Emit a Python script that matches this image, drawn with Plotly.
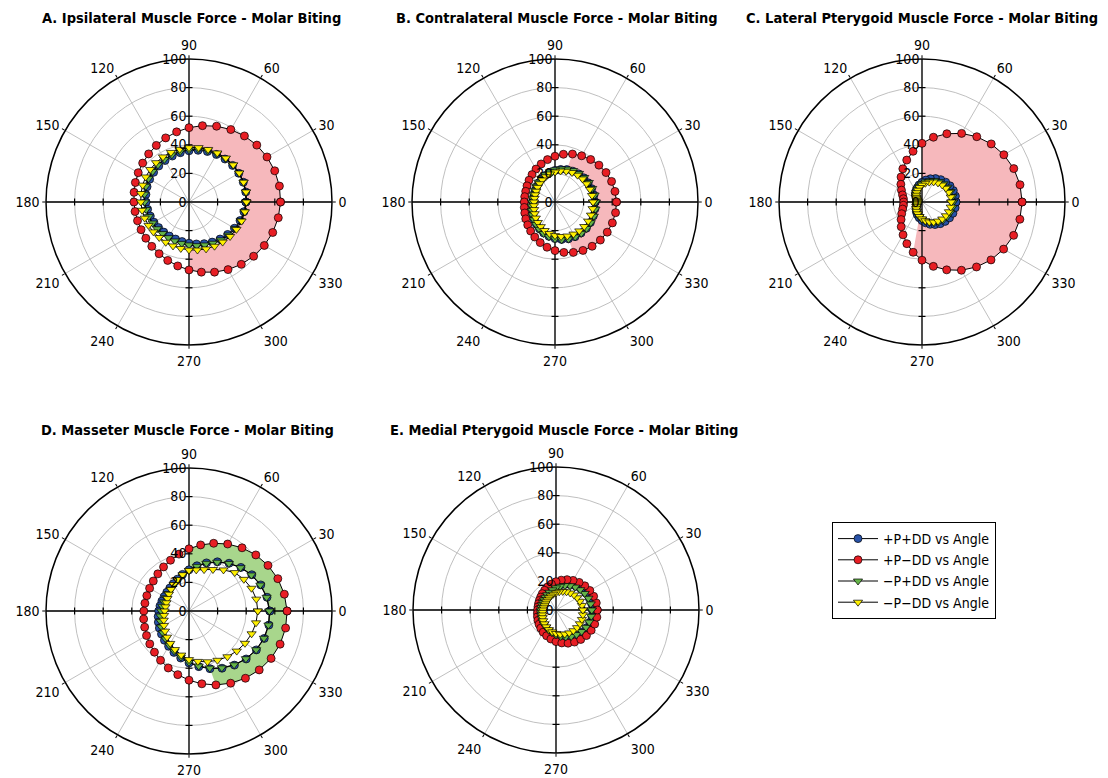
import plotly.graph_objects as go

# ---------------- data ----------------
ANGLES = [0, 10, 20, 30, 40, 50, 60, 70, 80, 90, 100, 110, 120, 130, 140, 150, 160, 170,
          180, 190, 200, 210, 220, 230, 240, 250, 260, 270, 280, 290, 300, 310, 320, 330, 340, 350]
ANGLE_TICKS = [0, 30, 60, 90, 120, 150, 180, 210, 240, 270, 300, 330]
RADIAL_TICKS = [0, 20, 40, 60, 80, 100]
SERIES_NAMES = ["+P+DD vs Angle", "+P\u2212DD vs Angle", "\u2212P+DD vs Angle", "\u2212P\u2212DD vs Angle"]

# A. Ipsilateral
A_PP_DD = [39.8, 40.3, 40.4, 40.2, 39.8, 39.2, 38.4, 37.6, 36.7, 35.8, 35.0, 34.2, 33.5, 32.9, 32.3, 31.8, 31.2, 30.6,
           30.0, 29.4, 28.8, 28.3, 27.8, 27.5, 27.5, 27.6, 28.1, 28.8, 29.8, 31.0, 32.4, 33.8, 35.3, 36.7, 38.0, 39.0]
A_PP_ND = [64.0, 64.2, 63.8, 63.0, 61.9, 60.3, 58.5, 56.4, 54.2, 52.0, 49.8, 47.7, 45.7, 43.9, 42.3, 41.0, 39.9, 39.0,
           38.5, 38.3, 38.3, 38.7, 39.4, 40.5, 41.8, 43.5, 45.4, 47.5, 49.8, 52.2, 54.6, 56.9, 59.0, 60.8, 62.3, 63.4]
A_NP_DD = [40.0, 40.4, 40.6, 40.5, 40.1, 39.6, 38.9, 38.2, 37.4, 36.5, 35.8, 35.1, 34.4, 33.8, 33.2, 32.7, 32.1, 31.6,
           31.0, 30.4, 29.9, 29.4, 29.1, 28.8, 28.8, 29.0, 29.4, 30.0, 31.0, 32.0, 33.3, 34.6, 36.0, 37.2, 38.4, 39.3]
A_NP_ND = [40.2, 40.5, 40.6, 40.6, 40.4, 40.1, 39.6, 39.1, 38.6, 38.0, 37.4, 36.9, 36.4, 35.9, 35.4, 35.0, 34.5, 34.1,
           33.7, 33.3, 33.0, 32.7, 32.5, 32.4, 32.5, 32.7, 33.0, 33.5, 34.1, 34.9, 35.7, 36.6, 37.5, 38.3, 39.1, 39.7]

# B. Contralateral
B_PP_DD = [28.1, 27.7, 27.3, 26.8, 26.3, 25.7, 24.9, 24.1, 23.1, 22.1, 20.9, 19.8, 18.7, 17.6, 16.7, 16.0, 15.6, 15.4,
           15.6, 16.0, 16.8, 17.8, 19.0, 20.3, 21.7, 23.1, 24.4, 25.6, 26.6, 27.4, 28.0, 28.3, 28.6, 28.6, 28.5, 28.3]
B_PP_ND = [43.0, 42.6, 42.1, 41.2, 40.1, 38.8, 37.3, 35.7, 33.9, 32.0, 30.1, 28.3, 26.6, 25.0, 23.7, 22.6, 21.8, 21.5,
           21.5, 21.8, 22.5, 23.6, 24.9, 26.5, 28.3, 30.2, 32.1, 34.0, 35.8, 37.5, 39.1, 40.4, 41.4, 42.2, 42.7, 43.0]
B_NP_DD = [28.5, 28.1, 27.7, 27.3, 26.7, 26.1, 25.4, 24.5, 23.5, 22.5, 21.4, 20.3, 19.2, 18.1, 17.2, 16.5, 16.1, 15.9,
           16.0, 16.5, 17.2, 18.2, 19.3, 20.6, 22.0, 23.4, 24.6, 25.8, 26.8, 27.6, 28.2, 28.6, 28.8, 28.9, 28.9, 28.7]
B_NP_ND = [26.6, 26.3, 26.0, 25.5, 25.1, 24.5, 23.8, 22.9, 22.0, 21.0, 19.9, 18.8, 17.8, 16.7, 15.9, 15.1, 14.7, 14.5,
           14.6, 14.9, 15.5, 16.4, 17.5, 18.7, 19.9, 21.2, 22.4, 23.5, 24.5, 25.3, 25.9, 26.4, 26.7, 26.8, 26.8, 26.7]

# C. Lateral pterygoid
C_PP_DD = [23.8, 23.7, 23.3, 22.6, 21.6, 20.4, 18.9, 17.3, 15.6, 13.8, 12.0, 10.2, 8.6, 7.1, 5.7, 4.6, 3.8, 3.3,
           3.1, 3.1, 3.5, 4.2, 5.2, 6.4, 7.9, 9.5, 11.2, 13.0, 14.8, 16.6, 18.2, 19.8, 21.1, 22.2, 23.0, 23.5]
C_PP_ND = [70.0, 69.6, 68.3, 66.1, 63.2, 59.6, 55.4, 50.8, 46.0, 41.0, 36.0, 31.2, 26.8, 22.8, 19.3, 16.6, 14.5, 13.2,
           12.8, 13.2, 14.4, 16.4, 19.1, 22.6, 26.5, 31.0, 35.7, 40.7, 45.7, 50.5, 55.1, 59.3, 63.0, 65.9, 68.2, 69.5]
C_NP_DD = [21.8, 21.7, 21.3, 20.7, 19.8, 18.7, 17.4, 15.9, 14.3, 12.7, 11.1, 9.5, 8.0, 6.6, 5.4, 4.4, 3.7, 3.2,
           3.0, 3.1, 3.5, 4.1, 5.0, 6.1, 7.4, 8.9, 10.5, 12.1, 13.7, 15.3, 16.8, 18.2, 19.4, 20.4, 21.1, 21.6]
C_NP_ND = [20.5, 20.4, 20.0, 19.3, 18.5, 17.4, 16.2, 14.8, 13.3, 11.8, 10.3, 8.8, 7.5, 6.2, 5.1, 4.3, 3.6, 3.2,
           3.1, 3.2, 3.6, 4.3, 5.1, 6.2, 7.5, 8.8, 10.3, 11.8, 13.3, 14.8, 16.2, 17.4, 18.5, 19.3, 20.0, 20.4]

# D. Masseter
D_PP_DD = [56.5, 55.4, 53.4, 50.7, 47.4, 43.6, 39.7, 35.8, 32.1, 28.8, 26.0, 23.7, 22.0, 20.9, 20.3, 20.1, 20.2, 20.6,
           21.2, 21.9, 22.8, 23.9, 25.1, 26.7, 28.5, 30.8, 33.4, 36.3, 39.5, 42.9, 46.2, 49.4, 52.2, 54.4, 56.0, 56.7]
D_PP_ND = [68.6, 67.7, 66.1, 63.8, 61.0, 57.7, 54.1, 50.4, 46.9, 43.5, 40.4, 37.8, 35.6, 33.9, 32.6, 31.8, 31.4, 31.3,
           31.6, 32.2, 33.0, 34.3, 35.8, 37.6, 39.8, 42.4, 45.2, 48.4, 51.7, 55.0, 58.3, 61.4, 64.1, 66.3, 67.8, 68.6]
D_NP_DD = [56.2, 55.1, 53.1, 50.4, 47.1, 43.4, 39.4, 35.5, 31.7, 28.3, 25.3, 22.9, 21.1, 19.8, 19.0, 18.6, 18.6, 19.0,
           19.5, 20.3, 21.2, 22.4, 23.8, 25.5, 27.6, 30.0, 32.7, 35.8, 39.1, 42.5, 45.9, 49.1, 51.9, 54.2, 55.7, 56.4]
D_NP_ND = [48.1, 47.8, 46.5, 44.3, 41.8, 37.5, 33.5, 30.8, 29.2, 28.4, 25.8, 23.4, 21.4, 19.6, 18.3, 17.4, 16.8, 16.7,
           17.0, 17.7, 18.8, 20.2, 21.9, 23.9, 26.2, 28.7, 31.3, 34.0, 35.8, 37.8, 39.8, 41.8, 43.6, 45.2, 46.6, 47.6]

# E. Medial pterygoid
E_PP_DD = [25.5, 25.3, 24.7, 23.9, 22.9, 21.7, 20.4, 19.1, 17.8, 16.5, 15.4, 14.3, 13.4, 12.7, 12.2, 11.8, 11.5, 11.5,
           11.5, 11.7, 12.1, 12.5, 13.1, 13.9, 14.7, 15.7, 16.8, 18.0, 19.3, 20.5, 21.7, 22.9, 23.9, 24.7, 25.2, 25.5]
E_PP_ND = [28.9, 28.6, 28.0, 27.3, 26.3, 25.2, 23.9, 22.6, 21.2, 19.8, 18.4, 17.1, 15.9, 14.9, 14.0, 13.4, 13.0, 12.8,
           12.9, 13.2, 13.8, 14.6, 15.5, 16.6, 17.9, 19.2, 20.6, 22.1, 23.4, 24.7, 25.9, 26.9, 27.8, 28.4, 28.8, 29.0]
E_NP_DD = [25.0, 24.7, 24.1, 23.2, 22.1, 20.9, 19.6, 18.2, 16.8, 15.5, 14.3, 13.2, 12.3, 11.6, 11.0, 10.6, 10.4, 10.4,
           10.5, 10.7, 11.1, 11.6, 12.3, 13.1, 14.0, 15.1, 16.2, 17.5, 18.8, 20.0, 21.3, 22.4, 23.4, 24.2, 24.7, 25.0]
E_NP_ND = [18.8, 18.4, 17.8, 17.1, 16.4, 15.5, 14.7, 13.8, 12.9, 12.0, 11.2, 10.4, 9.8, 9.2, 8.9, 8.6, 8.6, 8.7,
           9.0, 9.5, 10.1, 10.8, 11.7, 12.6, 13.6, 14.6, 15.5, 16.4, 17.2, 17.9, 18.5, 18.9, 19.2, 19.3, 19.3, 19.1]

TITLES = ["A. Ipsilateral Muscle Force - Molar Biting",
          "B. Contralateral Muscle Force - Molar Biting",
          "C. Lateral Pterygoid Muscle Force - Molar Biting",
          "D. Masseter Muscle Force - Molar Biting",
          "E. Medial Pterygoid Muscle Force - Molar Biting"]

# shaded band: (start angle, clockwise span, index of inner series)
FILL_START = [90, 70, 90, 90, 60]
FILL_SPAN = [180, 140, 190, 160, 120]
FILL_INNER = [3, 2, 3, 0, 2]

# ---------------- style / layout ----------------
# the page body has an 8px margin, so the figure is 8px smaller and all
# pixel positions (measured on the final screenshot) are shifted by 8px
OFF = 8
W, H = 1108 - OFF, 778 - OFF
CENTERS = [(189, 202), (555, 202), (922, 202), (189, 611), (556, 610)]
TITLE_POS = [(191, 18), (557, 18), (922, 18), (187, 430), (564, 430)]
R_PX = 143

COLORS = ["rgb(40,82,168)", "rgb(232,30,36)", "rgb(100,180,72)", "rgb(255,240,0)"]
SYMBOLS = ["circle", "circle", "triangle-down", "triangle-down"]
SIZES = [8, 8, 8, 8]
FILL_COLORS = ["rgb(246,184,188)", "rgb(246,184,188)", "rgb(246,184,188)",
               "rgb(168,214,140)", "rgb(168,214,140)"]
GRID = "rgb(192,192,192)"
FONT = "Liberation Sans Narrow, DejaVu Sans Condensed, Arial Narrow, Roboto, sans-serif"

PANELS = [
    [A_PP_DD, A_PP_ND, A_NP_DD, A_NP_ND],
    [B_PP_DD, B_PP_ND, B_NP_DD, B_NP_ND],
    [C_PP_DD, C_PP_ND, C_NP_DD, C_NP_ND],
    [D_PP_DD, D_PP_ND, D_NP_DD, D_NP_ND],
    [E_PP_DD, E_PP_ND, E_NP_DD, E_NP_ND],
]

fig = go.Figure()
layout_polars = {}
annotations = []

for i, series in enumerate(PANELS):
    sub = "polar" if i == 0 else f"polar{i+1}"
    steps = FILL_SPAN[i] // 10
    fill_ang = [(FILL_START[i] - 10 * k) % 360 for k in range(steps + 1)]
    idx = [ANGLES.index(a) for a in fill_ang]
    outer = [series[1][j] for j in idx]
    inner = [series[FILL_INNER[i]][j] for j in idx]
    fig.add_trace(go.Scatterpolar(
        r=outer + inner[::-1], theta=fill_ang + fill_ang[::-1],
        mode="lines", fill="toself", fillcolor=FILL_COLORS[i],
        line=dict(width=0, color=FILL_COLORS[i]), hoverinfo="skip",
        showlegend=False, subplot=sub))
    for a in (0, 90):
        fig.add_trace(go.Scatterpolar(
            r=[100, 0, 100], theta=[a, a, a + 180], mode="lines",
            line=dict(color="black", width=1.3), hoverinfo="skip",
            showlegend=False, subplot=sub))
    tick_r = [t for t in RADIAL_TICKS if 0 < t < 100]
    for a, sym in ((0, "line-ns"), (180, "line-ns"), (90, "line-ew"), (270, "line-ew")):
        fig.add_trace(go.Scatterpolar(
            r=tick_r, theta=[a] * len(tick_r), mode="markers",
            marker=dict(symbol=sym, size=5, line=dict(color="black", width=1.2)),
            hoverinfo="skip", showlegend=False, subplot=sub))
    for s, vals in enumerate(series):
        fig.add_trace(go.Scatterpolar(
            r=vals + [vals[0]], theta=ANGLES + [360],
            mode="lines+markers", name=SERIES_NAMES[s],
            line=dict(color="black", width=1),
            marker=dict(symbol=SYMBOLS[s], size=SIZES[s], color=COLORS[s],
                        line=dict(color="black", width=0.7)),
            legendgroup=SERIES_NAMES[s], showlegend=(i == 0), subplot=sub))

    cx, cy = CENTERS[i][0] - OFF, CENTERS[i][1] - OFF
    layout_polars[sub] = dict(
        domain=dict(x=[(cx - R_PX) / W, (cx + R_PX) / W],
                    y=[(H - cy - R_PX) / H, (H - cy + R_PX) / H]),
        bgcolor="white",
        angularaxis=dict(
            rotation=0, direction="counterclockwise",
            tickmode="array", tickvals=ANGLE_TICKS, ticktext=[str(t) for t in ANGLE_TICKS],
            showgrid=True, gridcolor=GRID, gridwidth=1,
            showline=True, linecolor="black", linewidth=1.5,
            ticks="outside", ticklen=3, tickcolor="black",
            tickfont=dict(family=FONT, size=14, color="black")),
        radialaxis=dict(
            range=[0, 100], angle=90, tickangle=90, side="counterclockwise",
            tickmode="array", tickvals=RADIAL_TICKS, ticktext=[str(t) for t in RADIAL_TICKS],
            showgrid=True, gridcolor=GRID, gridwidth=1,
            showline=False, ticks="",
            tickfont=dict(family=FONT, size=14, color="black")),
    )
    tx, ty = TITLE_POS[i][0] - OFF, TITLE_POS[i][1] - OFF
    annotations.append(dict(
        text=TITLES[i], x=tx / W, y=1 - ty / H, xref="paper", yref="paper",
        xanchor="center", yanchor="middle", showarrow=False,
        font=dict(family=FONT, size=14.5, color="black", weight="bold")))

fig.update_layout(
    width=W, height=H,
    margin=dict(l=0, r=0, t=0, b=0),
    paper_bgcolor="white", plot_bgcolor="white",
    annotations=annotations,
    legend=dict(x=(832 - OFF) / W, y=1 - (522 - OFF) / H, xanchor="left", yanchor="top",
                bordercolor="black", borderwidth=1, bgcolor="white",
                font=dict(family=FONT, size=14, color="black"),
                tracegroupgap=0, itemwidth=40),
    **layout_polars,
)

fig.write_html("out.html")
